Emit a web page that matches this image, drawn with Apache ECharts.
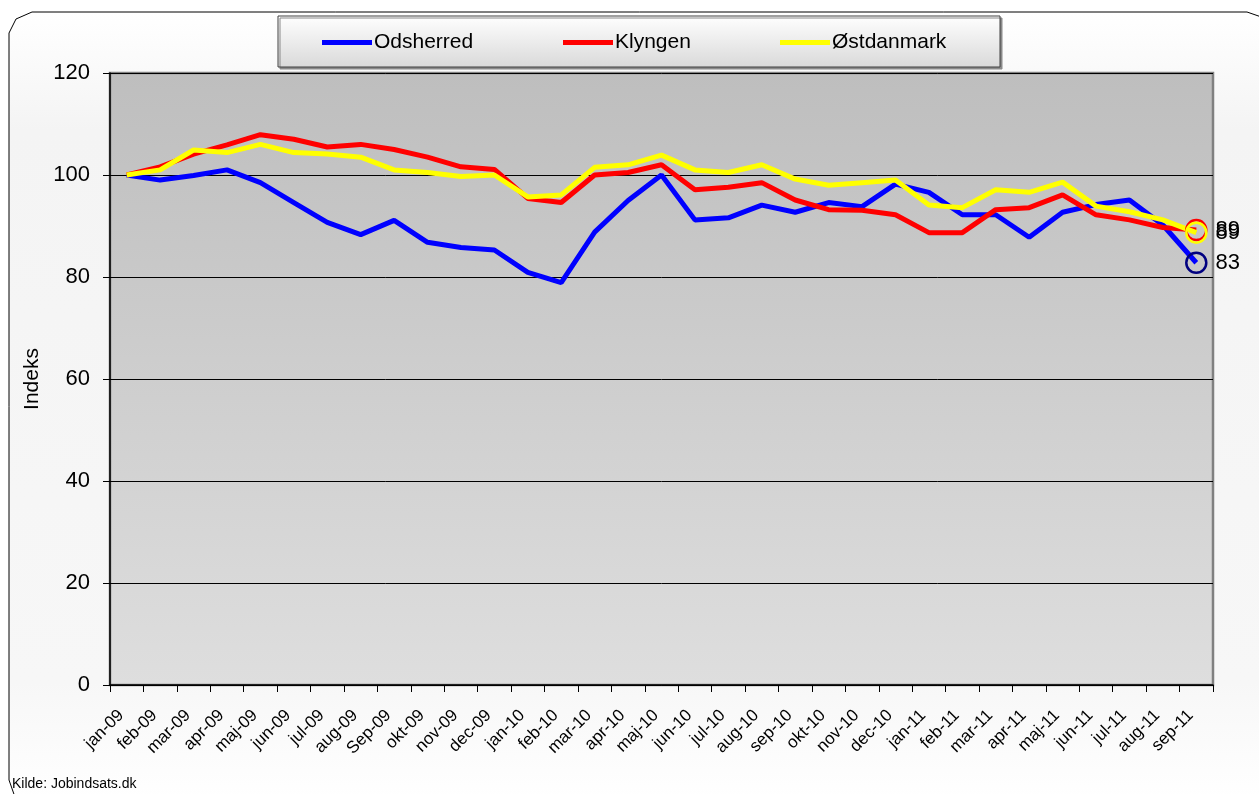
<!DOCTYPE html>
<html>
<head>
<meta charset="utf-8">
<script src="https://cdn.jsdelivr.net/npm/echarts@6/dist/echarts.min.js"></script>
<style>
	html, body { margin: 0; padding: 0; background: #ffffff; }
	#chart { width: 1259px; height: 794px; }
</style>
</head>
<body>
<div id="chart"></div>
<script>
	var months = ['jan-09', 'feb-09', 'mar-09', 'apr-09', 'maj-09', 'jun-09', 'jul-09', 'aug-09', 'Sep-09', 'okt-09', 'nov-09', 'dec-09',
		'jan-10', 'feb-10', 'mar-10', 'apr-10', 'maj-10', 'jun-10', 'jul-10', 'aug-10', 'sep-10', 'okt-10', 'nov-10', 'dec-10',
		'jan-11', 'feb-11', 'mar-11', 'apr-11', 'maj-11', 'jun-11', 'jul-11', 'aug-11', 'sep-11'];

	var odsherred = [100, 99.0, 99.9, 101.0, 98.5, 94.6, 90.7, 88.3, 91.1, 86.8, 85.8, 85.3,
		80.9, 78.9, 88.8, 95.0, 100.0, 91.2, 91.6, 94.1, 92.7, 94.6, 93.8, 98.2,
		96.6, 92.2, 92.2, 87.8, 92.7, 94.2, 95.1, 90.2, 82.8];

	var klyngen = [100, 101.6, 104.1, 105.9, 107.9, 107.0, 105.5, 106.0, 105.0, 103.5, 101.6, 101.1,
		95.4, 94.6, 100.0, 100.5, 102.0, 97.1, 97.6, 98.5, 95.1, 93.2, 93.1, 92.2,
		88.7, 88.7, 93.2, 93.6, 96.1, 92.2, 91.2, 89.7, 89.2];

	var ostdanmark = [100, 101.0, 104.9, 104.4, 106.0, 104.4, 104.1, 103.5, 101.0, 100.5, 99.7, 100.0,
		95.7, 96.1, 101.5, 102.0, 103.9, 101.0, 100.5, 102.0, 99.2, 98.0, 98.5, 99.0,
		94.1, 93.6, 97.1, 96.6, 98.6, 93.9, 92.8, 91.2, 88.7];

	var yTicks = [0, 20, 40, 60, 80, 100, 120];

	var font = '"Liberation Sans", Arial, sans-serif';

	// only the last point gets a circle and a value label
	function withEndMarker(values, ringColor) {
		return values.map(function(v, i) {
			if (i !== values.length - 1) return v;
			return {
				value: v,
				symbol: 'circle',
				symbolSize: 20,
				itemStyle: { color: 'rgba(0,0,0,0)', borderColor: ringColor, borderWidth: 2.5 },
				label: {
					show: true,
					position: 'right',
					distance: 8,
					color: '#000',
					fontSize: 22,
					fontFamily: font,
					formatter: function(p) { return Math.round(p.value); }
				}
			};
		});
	}

	function legendAt(name, left) {
		return {
			data: [name],
			left: left,
			top: 32,
			padding: 0,
			icon: 'rect',
			itemWidth: 50,
			itemHeight: 5,
			itemGap: 0,
			itemStyle: { borderWidth: 0 },
			textStyle: { color: '#000', fontSize: 21, fontFamily: font, padding: [0, 0, 0, -3] }
		};
	}

	var chart = echarts.init(document.getElementById('chart'));

	var option = {
		animation: false,
		textStyle: { fontFamily: font },
		graphic: [{
			type: 'polygon',
			z: -10,
			shape: { points: [[32, 12], [16, 19], [9, 33], [9, 780], [16, 800], [1270, 800], [1270, 20], [1247, 12]] },
			style: {
				stroke: '#000',
				lineWidth: 1,
				fill: new echarts.graphic.LinearGradient(0, 0, 0, 1, [
					{ offset: 0, color: '#ffffff' },
					{ offset: 0.15, color: '#f4f4f4' },
					{ offset: 0.85, color: '#f7f7f7' },
					{ offset: 1, color: '#ffffff' }
				])
			}
		}, {
			type: 'rect',
			z: -5,
			shape: { x: 278, y: 16, width: 722, height: 51 },
			style: {
				stroke: '#404040',
				lineWidth: 1,
				shadowColor: '#8a8a8a',
				shadowOffsetX: 2,
				shadowOffsetY: 2,
				fill: new echarts.graphic.LinearGradient(0, 0, 0, 1, [
					{ offset: 0, color: '#ffffff' },
					{ offset: 1, color: '#d9d9d9' }
				])
			}
		}, {
			type: 'text',
			left: 12,
			top: 777,
			style: { text: 'Kilde: Jobindsats.dk', fill: '#000', fontSize: 14, fontFamily: font }
		}],
		legend: [
			legendAt('Odsherred', 322),
			legendAt('Klyngen', 563),
			legendAt('Østdanmark', 780)
		],
		grid: {
			left: 110,
			right: 46,
			top: 73,
			bottom: 109,
			show: true,
			borderColor: '#808080',
			borderWidth: 2.5,
			backgroundColor: new echarts.graphic.LinearGradient(0, 0, 0, 1, [
				{ offset: 0, color: '#bebebe' },
				{ offset: 1, color: '#dedede' }
			])
		},
		xAxis: {
			type: 'category',
			data: months,
			boundaryGap: true,
			axisLine: { lineStyle: { color: '#000', width: 1.5 } },
			axisTick: { show: true, length: 7, lineStyle: { color: '#000' } },
			axisLabel: { rotate: 45, interval: 0, margin: 22, padding: [0, 8, 0, 0], color: '#000', fontSize: 17, fontFamily: font }
		},
		yAxis: {
			type: 'value',
			min: yTicks[0],
			max: yTicks[yTicks.length - 1],
			interval: 20,
			name: 'Indeks',
			nameLocation: 'middle',
			nameGap: 66,
			nameRotate: 90,
			nameTextStyle: { color: '#000', fontSize: 21, fontFamily: font },
			axisLine: { show: true, lineStyle: { color: '#000', width: 1.5 } },
			axisTick: { show: true, length: 7, lineStyle: { color: '#000' } },
			axisLabel: { color: '#000', fontSize: 22, margin: 20, fontFamily: font },
			splitLine: { show: true, lineStyle: { color: '#000', width: 1 } }
		},
		series: [{
			name: 'Odsherred',
			type: 'line',
			symbol: 'none',
			color: '#0000ff',
			lineStyle: { width: 5, color: '#0000ff' },
			data: withEndMarker(odsherred, '#000080')
		}, {
			name: 'Klyngen',
			type: 'line',
			symbol: 'none',
			color: '#ff0000',
			lineStyle: { width: 5, color: '#ff0000' },
			data: withEndMarker(klyngen, '#ff0000')
		}, {
			name: 'Østdanmark',
			type: 'line',
			symbol: 'none',
			color: '#ffff00',
			lineStyle: { width: 5, color: '#ffff00' },
			data: withEndMarker(ostdanmark, '#ffff00')
		}]
	};

	chart.setOption(option);
</script>
</body>
</html>
